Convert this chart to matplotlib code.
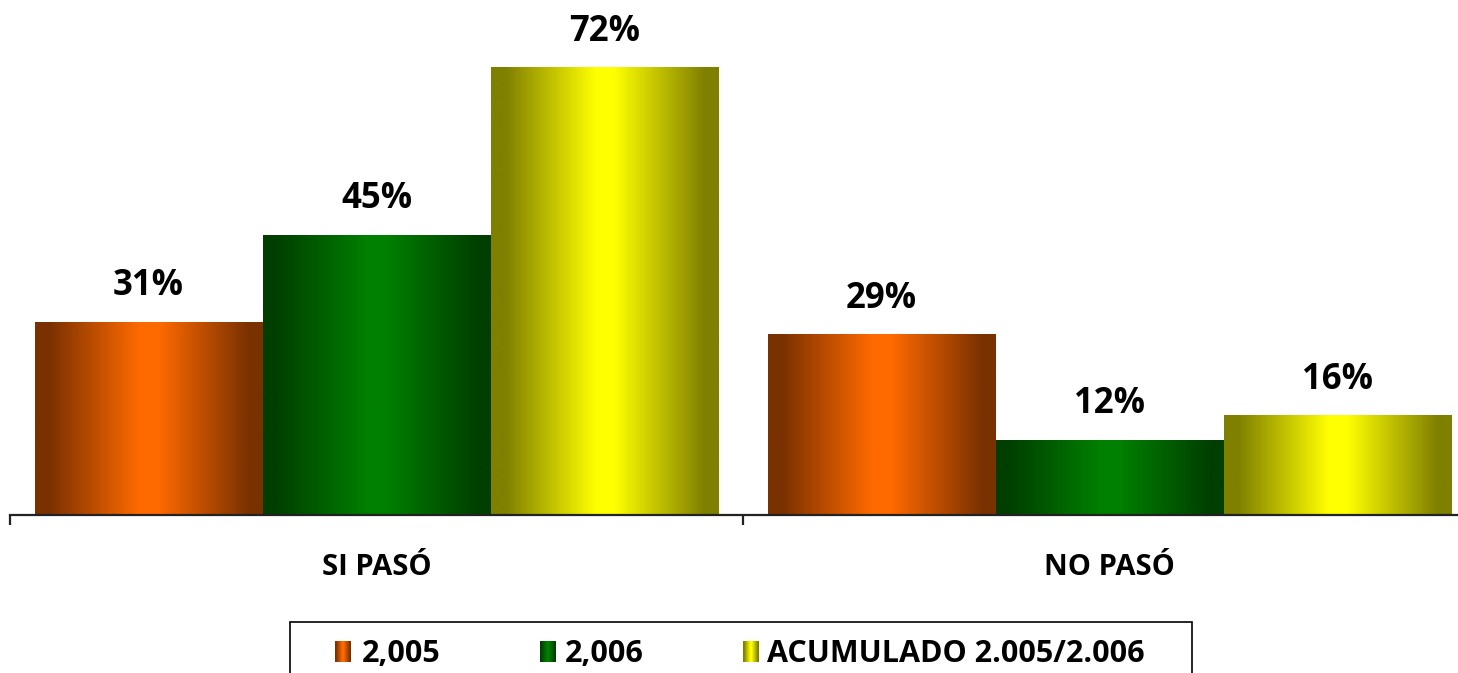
import numpy as np
import matplotlib
matplotlib.use("Agg")
import matplotlib.pyplot as plt
from matplotlib.colors import LinearSegmentedColormap
from matplotlib.patches import Rectangle

categories = ["SI PASÓ", "NO PASÓ"]
series_names = ["2,005", "2,006", "ACUMULADO 2.005/2.006"]
values_2005 = [31, 29]
values_2006 = [45, 12]
values_acum = [72, 16]

# (dark edge, bright centre) for each series
SERIES_COLORS = [
    ("#7a3100", "#ff6a00"),
    ("#003f00", "#008000"),
    ("#7f7f00", "#ffff00"),
]

FONT = "Open Sans"
W, H = 1458, 673


def gradient_row(n=600):
    # dark at both edges, bright in the middle
    x = np.linspace(0, 1, n)
    d = np.abs(x - 0.5)
    return np.clip((0.44 - d) / 0.40, 0, 1)[None, :]


def gradient_cmap(dark, bright):
    return LinearSegmentedColormap.from_list("g", [dark, bright], N=512)


fig = plt.figure(figsize=(W / 100, H / 100), dpi=100)
ax = fig.add_axes([10 / W, (H - 515) / H, (1476 - 10) / W, 497 / H])

bar_w = 228 / 733
grad = gradient_row()
all_values = [values_2005, values_2006, values_acum]
for s, vals in enumerate(all_values):
    cmap = gradient_cmap(*SERIES_COLORS[s])
    for i, v in enumerate(vals):
        xc = i + (s - 1) * bar_w
        ax.imshow(grad, cmap=cmap, vmin=0, vmax=1, aspect="auto",
                  extent=(xc - bar_w / 2, xc + bar_w / 2, 0, v),
                  interpolation="bilinear", zorder=2)
        ax.annotate(f"{v}%", xy=(xc, v), xytext=(0, 27), textcoords="offset pixels",
                    ha="center", va="baseline", fontsize=25, fontweight="bold",
                    family=FONT, color="#000000")

ax.set_xlim(-0.5, len(categories) - 0.5)
ax.set_ylim(0, 80)

for side in ["top", "right", "left"]:
    ax.spines[side].set_visible(False)
ax.spines["bottom"].set_color("#222222")
ax.spines["bottom"].set_linewidth(1.6)
ax.set_yticks([])
ax.set_xticks([])
ax.set_xticks(np.arange(-0.5, len(categories)), minor=True)
ax.tick_params(axis="x", which="minor", length=7, width=1.6, color="#222222",
               direction="out")

for i, cat in enumerate(categories):
    ax.annotate(cat, xy=(i, 0), xycoords=("data", "axes fraction"),
                xytext=(0, -60), textcoords="offset pixels",
                ha="center", va="baseline", fontsize=21, fontweight="bold",
                family=FONT)

# legend box, cut by the bottom edge like the original
fig.patches.append(Rectangle((290 / W, -0.1), 902 / W, 0.1 + (H - 622) / H,
                             transform=fig.transFigure, fill=False,
                             edgecolor="#000000", linewidth=1.2))
marker_x = [335, 540, 743]
text_x = [362, 565, 767]
for s, name in enumerate(series_names):
    mx = fig.add_axes([marker_x[s] / W, (H - 662) / H, 16 / W, 21 / H])
    mx.imshow(gradient_row(), cmap=gradient_cmap(*SERIES_COLORS[s]), vmin=0, vmax=1,
              aspect="auto", interpolation="bilinear")
    mx.axis("off")
    fig.text(text_x[s] / W, (H - 662) / H, name, ha="left", va="baseline",
             fontsize=22, fontweight="bold", family=FONT)

fig.savefig("out.png", dpi=100)
